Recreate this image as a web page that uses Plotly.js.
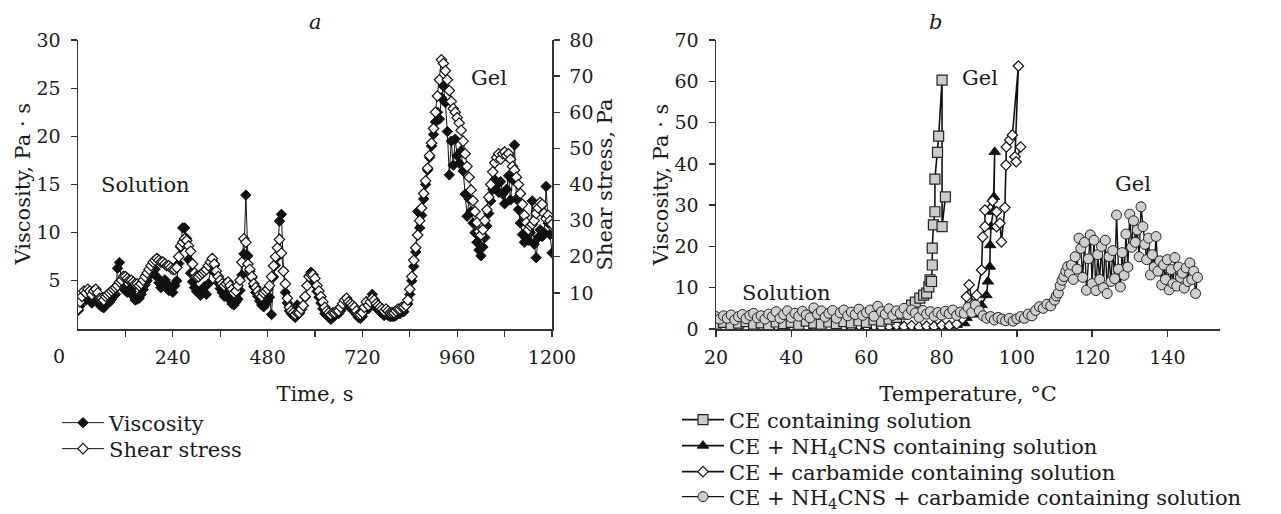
<!DOCTYPE html>
<html><head><meta charset="utf-8">
<script src="https://cdn.plot.ly/plotly-3.0.1.min.js"></script>
<style>html,body{margin:0;padding:0;background:#fff}</style>
</head><body><div id="chart" style="width:1281px;height:514px"></div>
<script>
// ---------- Panel a: time sweep ----------
const timeS = [
0,5,10,15,20,25,30,35,40,45,50,55,
60,65,70,75,80,85,90,95,100,105,110,115,
120,125,130,135,140,145,150,155,160,165,170,175,
180,185,190,195,200,205,210,215,220,225,230,235,
240,245,250,255,260,265,270,275,280,285,290,295,
300,305,310,315,320,325,330,335,340,345,350,355,
360,365,370,375,380,385,390,395,400,405,410,415,
420,425,430,435,440,445,450,455,460,465,470,475,
480,485,490,495,500,505,510,515,520,525,530,535,
540,545,550,555,560,565,570,575,580,585,590,595,
600,605,610,615,620,625,630,635,640,645,650,655,
660,665,670,675,680,685,690,695,700,705,710,715,
720,725,730,735,740,745,750,755,760,765,770,775,
780,785,790,795,800,805,810,815,820,825,830,835,
840,845,850,855,860,865,870,875,880,885,890,895,
900,905,910,915,920,925,930,935,940,945,950,955,
960,965,970,975,980,985,990,995,1000,1005,1010,1015,
1020,1025,1030,1035,1040,1045,1050,1055,1060,1065,1070,1075,
1080,1085,1090,1095,1100,1105,1110,1115,1120,1125,1130,1135,
1140,1145,1150,1155,1160,1165,1170,1175,1180,1185,1190,1195,
1200];
const viscosityA = [
1.9,2.4,2.9,3.2,3.0,3.3,3.0,2.7,3.1,3.4,3.0,2.5,
2.3,2.2,2.6,2.9,2.8,3.1,3.4,3.6,6.3,6.9,5.0,4.2,
4.0,3.8,4.1,3.9,3.4,3.0,3.1,3.2,3.6,4.1,4.6,5.0,
5.5,6.0,6.4,6.2,5.4,4.8,4.3,4.5,5.1,4.7,4.0,4.4,
3.8,4.5,5.0,6.8,8.5,10.5,10.5,9.4,7.2,5.8,4.9,4.3,
3.9,3.8,3.5,4.0,4.4,3.6,4.7,6.2,7.1,6.6,5.7,4.8,
4.2,3.8,3.4,3.9,3.5,3.0,2.6,2.5,2.8,3.1,4.0,5.6,
7.8,13.9,7.6,6.0,5.3,4.4,3.8,3.4,2.9,2.5,2.3,2.6,
2.9,3.3,1.5,5.4,6.6,7.5,11.2,11.9,6.0,3.8,2.7,1.9,
1.6,1.4,1.2,2.5,1.6,2.0,2.4,3.3,4.5,5.5,5.9,5.0,
4.6,3.9,3.3,2.7,2.1,1.6,1.4,1.2,1.0,1.2,1.4,1.6,
1.6,1.9,2.3,2.6,2.7,2.4,2.2,2.0,1.8,1.5,1.2,1.1,
1.3,1.8,2.4,2.1,2.4,3.6,2.6,2.2,2.0,1.8,1.6,1.4,
1.6,1.4,1.3,1.3,1.3,1.4,1.6,1.6,1.8,1.8,2.4,2.6,
3.6,5.0,6.5,8.0,12.2,10.5,11.8,13.5,15.0,16.5,17.8,19.0,
20.2,21.5,22.5,21.8,24.0,25.2,23.5,20.5,16.0,19.5,17.0,19.7,
18.0,17.2,18.5,16.4,14.0,11.7,13.5,12.2,11.0,10.0,9.0,8.2,
7.6,8.5,9.5,10.7,12.0,13.3,14.5,15.5,15.0,14.2,15.3,14.0,
13.0,14.5,15.9,13.4,15.5,19.1,13.5,12.4,11.0,9.8,9.0,9.5,
9.2,10.0,13.3,8.8,7.4,9.5,10.3,9.6,10.0,14.8,11.0,9.8,
7.9];
const shearStressA = [
5.5,7.5,9.0,10.5,10.0,11.0,10.5,9.5,10.5,11.0,10.0,8.5,
8.5,8.0,9.0,9.5,10.0,10.5,11.0,11.5,12.0,13.0,13.5,14.5,
14.5,14.0,13.5,13.5,13.0,12.5,12.5,12.0,12.5,13.5,14.5,15.5,
16.5,17.5,18.5,19.0,19.5,19.0,18.5,18.5,18.0,17.5,17.5,17.0,
16.5,16.5,17.0,20.0,23.0,24.0,25.0,24.5,23.0,21.5,18.0,15.5,
14.5,14.5,15.0,15.5,16.0,16.5,17.5,18.5,19.5,18.0,16.0,14.5,
13.5,12.5,12.0,12.5,13.0,12.0,11.0,10.0,10.5,12.0,13.5,18.5,
25.0,24.0,18.0,16.5,14.5,12.5,11.5,10.5,9.5,9.0,10.0,10.5,
11.0,12.0,14.5,17.5,20.0,22.5,24.8,21.0,16.0,12.5,8.5,6.0,
5.0,4.5,4.0,4.5,4.5,5.5,6.5,9.0,12.0,14.5,15.0,15.0,
14.0,12.0,10.5,9.0,7.5,6.0,5.0,4.5,4.0,4.5,4.5,5.0,
5.0,6.0,7.0,8.0,8.5,7.5,7.0,6.5,6.0,5.0,4.0,4.0,
4.5,6.0,7.5,6.5,7.5,8.5,8.0,7.0,6.5,6.0,5.5,5.0,
5.5,5.0,4.5,4.5,4.5,5.0,5.5,5.5,6.0,6.0,6.5,8.0,
11.0,14.5,19.0,22.5,26.0,30.0,33.5,37.5,41.0,44.5,48.0,51.5,
55.5,60.0,64.5,69.0,74.5,73.5,71.5,69.0,66.0,63.0,61.0,60.0,
58.5,57.0,55.0,52.0,48.5,45.0,42.0,38.5,35.5,32.5,29.5,27.0,
26.0,27.5,30.0,33.0,36.5,40.0,43.5,46.0,47.5,48.5,47.0,48.5,
49.0,48.0,48.5,47.0,45.0,44.0,42.0,40.0,37.5,34.5,31.5,29.5,
27.5,28.5,29.0,30.0,32.0,33.5,35.0,34.5,32.0,30.5,31.5,30.0,
29.0];
const timeTickVals = [240,480,720,960,1200];
const timeMinorTicks = [120,360,600,840,1080];

// ---------- Panel b: temperature sweep ----------
const tempCE = [20,22,24,26,28,30,32,34,36,38,40,42,44,46,48,50,52,54,56,58,60,62,64,66,68,69.5,71,72,73,74.2,75.2,76,76.6,76.9,77.3,77.5,77.5,77.8,78.2,78.2,78.9,79.2,80.1,80.1,81.0];
const viscCE = [1.2,1.6,1.0,1.4,1.8,1.2,1.5,1.0,1.7,1.3,1.6,1.1,1.9,1.4,1.2,1.7,1.3,1.8,1.5,2.0,1.6,2.2,1.9,2.4,2.8,3.6,4.8,5.8,6.5,7.5,8.2,8.7,10.2,11.9,11.5,15.5,19.6,25.2,28.4,36.3,42.8,46.7,60.3,24.8,32.0];

const tempNH4 = [20,22,24,26,28,30,32,34,36,38,40,42,44,46,48,50,52,54,56,58,60,62,64,66,68,70,72,74,76,78,80,82,84,86,86.6,88.4,89.5,90.6,91.9,92.3,92.8,92.9,93.1,93.7,94.1,93.9];
const viscNH4 = [0.6,0.4,0.8,0.5,0.7,0.3,0.6,0.9,0.5,0.4,0.7,0.6,0.8,0.5,0.4,0.7,0.9,0.6,0.5,0.8,0.4,0.7,0.6,0.9,0.5,0.8,0.6,0.4,0.7,0.9,0.6,0.8,1.0,1.4,2.7,4.2,3.5,5.8,8.2,11.5,15.1,20.3,24.8,28.4,42.9,32.0];

const tempCarb = [20,22,24,26,28,30,32,34,36,38,40,42,44,46,48,50,52,54,56,58,60,62,64,66,68,70,72,74,76,78,80,82,84,85.5,86.6,87.3,88.2,89.3,90.6,90.9,91.5,91.5,93.5,94.6,94.6,95.5,95.9,96.8,97.1,97.2,98.1,98.8,100.4,99.5,99.8,101.0];
const viscCarb = [0.8,0.5,0.9,0.6,0.4,0.8,0.7,0.5,0.9,0.6,0.8,0.4,0.7,0.9,0.6,0.5,0.8,0.7,0.4,0.9,0.6,0.8,0.5,0.7,0.9,0.6,0.8,0.5,0.7,0.6,0.9,0.8,1.2,2.5,7.8,10.7,6.0,8.2,14.3,22.3,24.8,28.8,31.0,28.4,24.8,25.6,21.1,29.4,39.7,44.1,45.8,47.0,63.7,41.7,40.5,44.1];

const tempMix = [
20,21,22,23,24,25,26,27,28,29,
30,31,32,33,34,35,36,37,38,39,
40,41,42,43,44,45,46,47,48,49,
50,51,52,53,54,55,56,57,58,59,
60,61,62,63,64,65,66,67,68,69,
70,71,72,73,74,75,76,77,78,79,
80,81,82,83,84,85,86,87,88,89,
90,91,92,93,94,95,96,97,98,99,
100,101,102,103,104,105,106,107,108,109,
110,110.5,111,111.5,112,112.5,113,113.5,114,114.5,
115,115.5,116,116.5,117,117.5,118,118.5,119,119.5,
120,120.5,121,121.5,122,122.5,123,123.5,124,124.5,
125,125.5,126,126.5,127,127.5,128,128.5,129,129.5,
130,130.5,131,131.5,132,132.5,133,133.5,134,134.5,
135,135.5,136,136.5,137,137.5,138,138.5,139,139.5,
140,140.5,141,141.5,142,142.5,143,143.5,144,144.5,
145,145.5,146,146.5,147,147.5,148];
const viscMix = [
3.0,2.4,3.2,2.6,3.4,2.2,3.0,3.5,2.5,3.3,
3.8,2.7,3.2,2.4,3.6,3.0,4.2,2.6,3.5,4.4,
2.8,3.8,3.1,4.3,3.4,2.7,5.1,3.6,4.4,2.9,
3.8,4.5,2.6,3.9,4.6,3.2,4.1,3.5,4.8,3.3,
4.0,4.6,3.1,5.5,4.2,3.6,4.9,3.3,4.4,3.8,
5.0,3.5,4.6,3.9,2.8,4.5,3.6,4.2,3.1,4.0,
3.4,4.3,3.7,4.6,3.3,4.1,3.8,5.2,4.0,5.8,
4.4,3.2,2.6,3.0,2.2,2.8,2.4,2.0,2.6,1.9,
2.5,3.0,2.6,3.6,3.2,4.5,5.4,5.0,6.0,5.6,
7.0,8.0,8.7,10.5,11.8,12.7,14.0,15.1,13.5,15.5,
12.0,17.5,14.5,22.0,19.5,12.5,21.0,9.4,17.0,22.8,
11.0,21.5,9.3,18.0,12.0,20.0,10.0,21.5,8.6,17.5,
11.5,19.0,12.2,27.6,14.5,10.2,18.5,13.0,23.0,15.0,
27.8,19.8,26.2,21.0,24.0,17.5,29.6,24.8,20.5,16.8,
22.0,13.1,18.0,15.0,22.4,14.0,16.5,10.7,15.5,12.0,
16.8,9.5,14.4,11.0,17.3,10.4,15.0,12.5,13.5,9.9,
14.8,11.5,16.0,12.0,14.0,8.6,12.5];

// ---------- styling ----------
const FONT = 'DejaVu Serif, serif';
const INK = '#1a1a1a';
const W = 1281, H = 514, PLOT_TOP = 40, PLOT_BOT = 329;
const px = p => p / W;
const py = p => (PLOT_BOT - p) / (PLOT_BOT - PLOT_TOP);
const cy = p => 1 - p / H;

const axisBase = {
  showline: true, linecolor: '#333', linewidth: 1.5,
  ticks: 'outside', ticklen: 6, tickwidth: 1.3, tickcolor: '#333',
  showgrid: false, zeroline: false,
  tickfont: {family: FONT, size: 19, color: INK}
};

const legendFont = {family: FONT, size: 21, color: INK};
function legendAt(xPix, yPix) {
  return {
    xref: 'container', yref: 'container',
    x: xPix / W, y: cy(yPix), xanchor: 'left', yanchor: 'middle',
    bgcolor: 'rgba(0,0,0,0)', borderwidth: 0, itemwidth: 42,
    font: legendFont
  };
}

const traces = [
  {x: timeS, y: viscosityA, name: 'Viscosity', xaxis: 'x', yaxis: 'y', mode: 'lines+markers',
   line: {color: '#111', width: 1}, marker: {symbol: 'diamond', size: 8, color: '#111', line: {color: '#111', width: 1}},
   legend: 'legend'},
  {x: timeS, y: shearStressA, name: 'Shear stress', xaxis: 'x', yaxis: 'y2', mode: 'lines+markers',
   line: {color: '#111', width: 1}, marker: {symbol: 'diamond', size: 8, color: '#fff', line: {color: '#111', width: 1.2}},
   legend: 'legend2'},
  {x: tempNH4, y: viscNH4, name: 'CE + NH<sub>4</sub>CNS containing solution', xaxis: 'x2', yaxis: 'y3', mode: 'lines+markers',
   line: {color: '#111', width: 1.6}, marker: {symbol: 'triangle-up', size: 10, color: '#111', line: {color: '#111', width: 1}},
   legend: 'legend4'},
  {x: tempCarb, y: viscCarb, name: 'CE + carbamide containing solution', xaxis: 'x2', yaxis: 'y3', mode: 'lines+markers',
   line: {color: '#111', width: 1.6}, marker: {symbol: 'diamond', size: 8, color: '#fff', line: {color: '#111', width: 1.2}},
   legend: 'legend5'},
  {x: tempCE, y: viscCE, name: 'CE containing solution', xaxis: 'x2', yaxis: 'y3', mode: 'lines+markers',
   line: {color: '#111', width: 1.6}, marker: {symbol: 'square', size: 10, color: '#cbcbcb', line: {color: '#222', width: 1.2}},
   legend: 'legend3'},
  {x: tempMix, y: viscMix, name: 'CE + NH<sub>4</sub>CNS + carbamide containing solution', xaxis: 'x2', yaxis: 'y3', mode: 'lines+markers',
   line: {color: '#111', width: 1.4}, marker: {symbol: 'circle', size: 10, color: '#cfcfcf', line: {color: '#222', width: 1}},
   legend: 'legend6'}
];

const titleFont = {family: FONT, size: 21, color: INK};
const annFont = {family: FONT, size: 21, color: INK};

const layout = {
  width: W, height: H,
  margin: {l: 0, r: 0, t: PLOT_TOP, b: H - PLOT_BOT, pad: 0, autoexpand: false},
  paper_bgcolor: '#fff', plot_bgcolor: 'rgba(0,0,0,0)',
  font: {family: FONT, color: INK},
  xaxis: Object.assign({}, axisBase, {
    domain: [px(78), px(552)], anchor: 'y', range: [0, 1200],
    tickmode: 'array', tickvals: timeTickVals, ticklabelstandoff: 5,
    minor: {tickmode: 'array', tickvals: timeMinorTicks, ticks: 'outside', ticklen: 6, tickwidth: 1.3, tickcolor: '#333', showgrid: false},
    title: {text: 'Time, s', font: titleFont, standoff: 19}
  }),
  yaxis: Object.assign({}, axisBase, {
    domain: [0, 1], anchor: 'x', range: [0, 30],
    tickmode: 'array', tickvals: [5, 10, 15, 20, 25, 30], ticklabelstandoff: 6
  }),
  yaxis2: Object.assign({}, axisBase, {
    overlaying: 'y', side: 'right', anchor: 'x', range: [0, 80],
    tickmode: 'array', tickvals: [10, 20, 30, 40, 50, 60, 70, 80], ticklabelstandoff: 6,
    title: {text: 'Shear stress, Pa', font: titleFont, standoff: 4}
  }),
  xaxis2: Object.assign({}, axisBase, {
    domain: [px(716), px(1220)], anchor: 'y3', range: [20, 154],
    tickmode: 'array', tickvals: [20, 40, 60, 80, 100, 120, 140], ticklabelstandoff: 5,
    title: {text: 'Temperature, °C', font: titleFont, standoff: 19}
  }),
  yaxis3: Object.assign({}, axisBase, {
    domain: [0, 1], anchor: 'x2', range: [0, 70],
    tickmode: 'array', tickvals: [0, 10, 20, 30, 40, 50, 60, 70], ticklabelstandoff: 6,
    title: {text: 'Viscosity, Pa · s', font: titleFont, standoff: 0}
  }),
  legend: legendAt(57, 423),
  legend2: legendAt(57, 449),
  legend3: legendAt(677, 420),
  legend4: legendAt(677, 446),
  legend5: legendAt(677, 472),
  legend6: legendAt(677, 497),
  showlegend: true,
  annotations: [
    {text: 'Viscosity, Pa · s', xref: 'paper', yref: 'paper', x: px(22), y: 0.5, textangle: -90, xanchor: 'center', yanchor: 'middle', showarrow: false, font: titleFont},
    {text: '<i>a</i>', xref: 'paper', yref: 'paper', x: px(315), y: py(22), xanchor: 'center', yanchor: 'middle', showarrow: false, font: annFont},
    {text: '<i>b</i>', xref: 'paper', yref: 'paper', x: px(935), y: py(22), xanchor: 'center', yanchor: 'middle', showarrow: false, font: annFont},
    {text: '0', xref: 'paper', yref: 'paper', x: px(59), y: py(356), xanchor: 'center', yanchor: 'middle', showarrow: false, font: {family: FONT, size: 19, color: INK}},
    {text: 'Solution', xref: 'x', yref: 'y', x: 170, y: 15, xanchor: 'center', yanchor: 'middle', showarrow: false, font: annFont},
    {text: 'Gel', xref: 'x', yref: 'y', x: 1040, y: 26.1, xanchor: 'center', yanchor: 'middle', showarrow: false, font: annFont},
    {text: 'Gel', xref: 'x2', yref: 'y3', x: 90.1, y: 60.8, xanchor: 'center', yanchor: 'middle', showarrow: false, font: annFont},
    {text: 'Gel', xref: 'x2', yref: 'y3', x: 130.9, y: 35.1, xanchor: 'center', yanchor: 'middle', showarrow: false, font: annFont},
    {text: 'Solution', xref: 'x2', yref: 'y3', x: 38.7, y: 8.7, xanchor: 'center', yanchor: 'middle', showarrow: false, font: annFont}
  ]
};

Plotly.newPlot('chart', traces, layout, {displayModeBar: false, staticPlot: true});
</script></body></html>
